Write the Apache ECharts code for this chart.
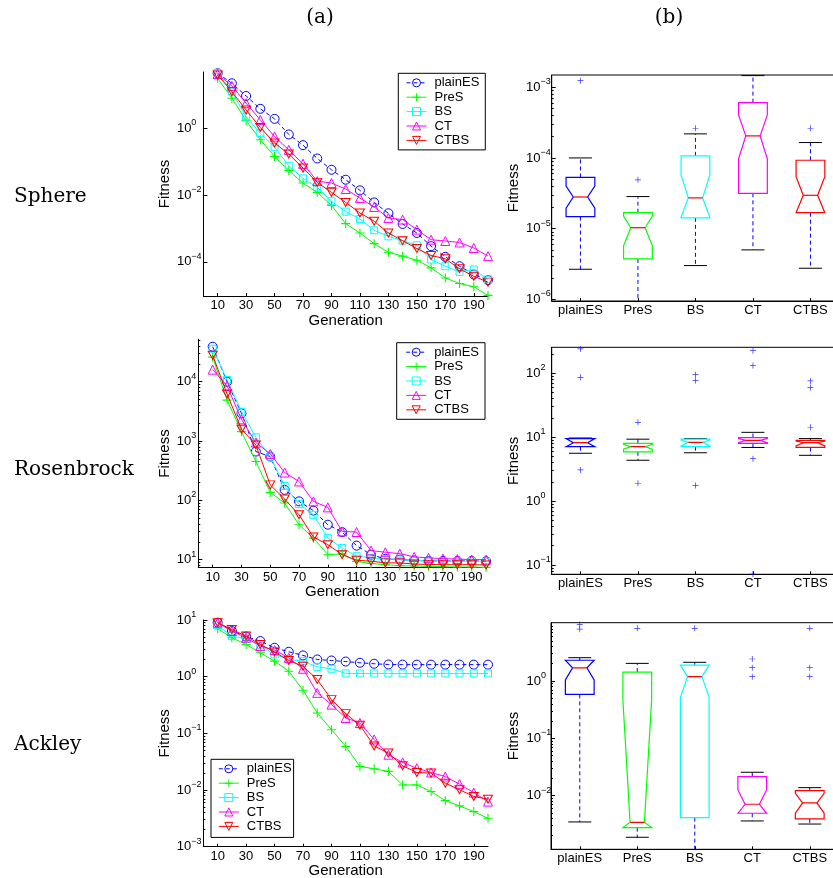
<!DOCTYPE html>
<html><head><meta charset="utf-8">
<script src="https://cdn.jsdelivr.net/npm/echarts@6/dist/echarts.min.js"></script>
<style>html,body{margin:0;padding:0;background:#fff}#c{width:833px;height:878px}</style>
</head><body><div id="c"></div>
<script>
// ---------------- DATA ----------------
const gens = [10,20,30,40,50,60,70,80,90,100,110,120,130,140,150,160,170,180,190,200];
const xTicks = [10,30,50,70,90,110,130,150,170,190];
const methods = ['plainES','PreS','BS','CT','CTBS'];

// (a) convergence curves
const sphere_plainES = [44,22,9.2,3.8,1.9,0.65,0.31,0.124,0.057,0.0287,0.0138,6.0e-3,2.84e-3,1.36e-3,7.3e-4,2.94e-4,1.41e-4,7.4e-5,4.2e-5,2.84e-5];
const sphere_PreS    = [31,7.9,1.7,0.45,0.143,0.054,0.0228,0.012,4.9e-3,1.39e-3,7.3e-4,3.5e-4,1.94e-4,1.48e-4,1.12e-4,6.6e-5,3.3e-5,2.25e-5,1.8e-5,9.9e-6];
const sphere_BS      = [45,12.4,2.2,0.71,0.27,0.075,0.0315,0.0169,6.5e-3,3.18e-3,1.92e-3,8.8e-4,5.8e-4,4.3e-4,3.1e-4,1.17e-4,7.4e-5,5.0e-5,5.9e-5,2.97e-5];
const sphere_CT      = [42,18.4,5.6,1.77,0.56,0.225,0.086,0.026,0.0228,0.0151,8.1e-3,4.4e-3,2.06e-3,1.84e-3,9.2e-4,4.6e-4,4.2e-4,3.8e-4,2.6e-4,1.48e-4];
const sphere_CTBS    = [39,12.4,3.5,1.05,0.36,0.168,0.064,0.0239,0.012,6.0e-3,2.9e-3,1.64e-3,7.3e-4,4.3e-4,2.5e-4,1.55e-4,1.23e-4,6.2e-5,3.7e-5,2.47e-5];

const ros_plainES = [3.9e4,1.0e4,2930,664,547,150,96,67,38.8,29,17.2,12.1,10.3,10,9.7,9.5,9.5,9.5,9.5,9.4];
const ros_PreS    = [2.6e4,4900,1440,451,136,90,38.8,23,12.1,12.5,9.3,8.6,8.2,7.9,7.8,7.7,7.6,7.5,7.5,7.4];
const ros_BS      = [3.6e4,1.07e4,3130,1155,547,175,86,57,23,15.7,11.4,10.7,10.3,10,9.7,9.6,9.5,9.4,9.4,9.3];
const ros_CT      = [1.6e4,8500,2320,940,607,294,208,96,76,29.9,29.2,14.2,13.3,12.6,11.1,10.7,10.4,10.2,10,10];
const ros_CTBS    = [2.8e4,6200,1580,860,182,105,57,24,17.9,12.1,9.75,9.4,8.8,8.8,8.4,8.3,8.2,8.2,8.2,8.1];

const ack_plainES = [8.97,6.4,5.1,4.25,3.24,2.75,2.37,2.01,1.93,1.85,1.76,1.69,1.64,1.63,1.63,1.63,1.63,1.63,1.63,1.63];
const ack_PreS    = [7.0,4.87,3.7,2.64,1.88,1.25,0.576,0.229,0.116,0.0589,0.0261,0.0237,0.0213,0.0123,0.0123,9.4e-3,6.5e-3,5.25e-3,4.16e-3,3.17e-3];
const ack_BS      = [8.05,5.2,4.68,3.56,2.47,2.01,1.88,1.49,1.38,1.14,1.14,1.14,1.14,1.14,1.14,1.14,1.14,1.14,1.14,1.14];
const ack_CT      = [8.97,6.4,4.87,3.47,2.94,2.15,1.38,0.518,0.321,0.187,0.152,0.078,0.042,0.0307,0.0243,0.0204,0.0173,0.0127,9.0e-3,6.25e-3];
const ack_CTBS    = [8.97,6.8,5.2,3.7,2.72,1.93,1.53,0.891,0.394,0.223,0.139,0.06,0.045,0.0268,0.0204,0.0199,0.0132,0.0101,7.7e-3,6.9e-3];

// (b) notched box statistics: [lowerWhisker, q1, notchLow, median, notchHigh, q3, upperWhisker]
const sphereBox_plainES = [2.66e-6,1.48e-5,1.94e-5,2.8e-5,4.0e-5,5.3e-5,1.0e-4];
const sphereBox_PreS    = [5e-7,3.72e-6,5.7e-6,1.03e-5,1.51e-5,1.68e-5,2.84e-5];
const sphereBox_BS      = [3.0e-6,1.42e-5,1.45e-5,2.72e-5,5.75e-5,1.07e-4,2.19e-4];
const sphereBox_CT      = [5.0e-6,3.16e-5,9.7e-5,2.05e-4,4.06e-4,6.06e-4,1.46e-3];
const sphereBox_CTBS    = [2.75e-6,1.68e-5,1.68e-5,2.96e-5,5.44e-5,9.27e-5,1.65e-4];
const sphereOut_plainES = [1.24e-3];
const sphereOut_PreS    = [4.9e-5];
const sphereOut_BS      = [2.63e-4];
const sphereOut_CT      = [];
const sphereOut_CTBS    = [2.63e-4];

const rosBox_plainES = [5.6,7.1,7.1,8.2,9.5,9.5,9.7];
const rosBox_PreS    = [4.35,5.9,6.5,7.1,7.7,8.0,9.3];
const rosBox_BS      = [5.7,7.1,7.3,8.3,9.0,9.3,9.5];
const rosBox_CT      = [6.9,8.0,8.2,8.9,9.5,9.85,11.9];
const rosBox_CTBS    = [5.2,6.9,7.3,8.2,8.7,8.9,9.5];
const rosOut_plainES = [240,86.5,3.07];
const rosOut_PreS    = [17.1,1.9];
const rosOut_BS      = [95,77,1.75];
const rosOut_CT      = [226,132,4.6,0.072];
const rosOut_CTBS    = [76,59.7,14.3];

const ackBox_plainES = [3.48e-3,0.586,1.04,1.70,2.3,2.3,2.55];
const ackBox_PreS    = [1.88e-3,2.77e-3,2.77e-3,3.43e-3,0.47,1.43,2.03];
const ackBox_BS      = [4e-4,4.14e-3,0.52,1.19,1.9,1.9,2.12];
const ackBox_CT      = [3.62e-3,4.93e-3,4.93e-3,7.08e-3,0.0126,0.0214,0.0256];
const ackBox_CTBS    = [3.2e-3,3.93e-3,4.93e-3,7.46e-3,0.011,0.0122,0.0138];
const ackOut_plainES = [9.7,8.0];
const ackOut_PreS    = [8.3];
const ackOut_BS      = [8.3];
const ackOut_CT      = [2.42,1.71,1.19];
const ackOut_CTBS    = [8.3,1.71,1.19];

// tick labels (powers of ten)
const sphereLineTicks = [1e-4,1e-2,1];
const rosLineTicks = [10,100,1000,10000];
const ackLineTicks = [1e-3,1e-2,1e-1,1,10];
const sphereBoxTicks = [1e-6,1e-5,1e-4,1e-3];
const rosBoxTicks = [0.1,1,10,100];
const ackBoxTicks = [1e-2,1e-1,1];

// ---------------- STYLE / LAYOUT ----------------
const colors = ['#0000ff','#00ff00','#00ffff','#ff00ff','#ff0000'];
const plusPath = 'path://M0,4.4H10V5.6H0ZM4.4,0H5.6V10H4.4Z';
const downTri = 'path://M0,0L10,0L5,8.66Z';
const symDefs = [
  {symbol:'circle', size:9, fill:'none'},
  {symbol:plusPath, size:9, fill:'#00ff00'},
  {symbol:'rect', size:7, fill:'none'},
  {symbol:'triangle', size:9, fill:'none'},
  {symbol:downTri, size:[9,8], fill:'none'}
];
const FONT = 'Liberation Sans';

const lineRows = [
  [sphere_plainES,sphere_PreS,sphere_BS,sphere_CT,sphere_CTBS],
  [ros_plainES,ros_PreS,ros_BS,ros_CT,ros_CTBS],
  [ack_plainES,ack_PreS,ack_BS,ack_CT,ack_CTBS]
];
const boxRows = [
  [sphereBox_plainES,sphereBox_PreS,sphereBox_BS,sphereBox_CT,sphereBox_CTBS],
  [rosBox_plainES,rosBox_PreS,rosBox_BS,rosBox_CT,rosBox_CTBS],
  [ackBox_plainES,ackBox_PreS,ackBox_BS,ackBox_CT,ackBox_CTBS]
];
const outRows = [
  [sphereOut_plainES,sphereOut_PreS,sphereOut_BS,sphereOut_CT,sphereOut_CTBS],
  [rosOut_plainES,rosOut_PreS,rosOut_BS,rosOut_CT,rosOut_CTBS],
  [ackOut_plainES,ackOut_PreS,ackOut_BS,ackOut_CT,ackOut_CTBS]
];
const lineTickRows = [sphereLineTicks, rosLineTicks, ackLineTicks];
const boxTickRows = [sphereBoxTicks, rosBoxTicks, ackBoxTicks];

const gridsA = [
  {left:203.4, top:72, width:284.6, height:224, ymin:9.5e-6, ymax:48, minor:false, lm:26.5, ng:31},
  {left:198.3, top:339.3, width:287.8, height:228.4, ymin:7.3, ymax:5.2e4, minor:true, lm:21.6, ng:26},
  {left:203.4, top:620, width:284.6, height:226.7, ymin:1e-3, ymax:10, minor:true, lm:26.7, ng:31}
];
const gridsB = [
  {left:551.7, top:75, width:287.5, height:226, ymin:9.46e-7, ymax:1.49e-3, lm:25.7},
  {left:551.7, top:347.3, width:287.5, height:227, ymin:0.0714, ymax:255, lm:25.7},
  {left:551, top:622.7, width:287.5, height:226.6, ymin:1.16e-3, ymax:10.4, lm:24.5}
];

function minorTicks(min, max) {
  const out = [];
  for (let e = Math.floor(Math.log10(min)); e <= Math.ceil(Math.log10(max)); e++) {
    for (let k = 2; k <= 9; k++) { const v = k * Math.pow(10, e); if (v > min && v < max) out.push(v); }
  }
  return out;
}
function supFmt(v) {
  const e = Math.round(Math.log10(v));
  const s = e < 0 ? '\u2212' + (-e) : '' + e;
  return '{b|10}{s|' + s + '}';
}
const supRich = {
  b: {fontSize:13, fontFamily:FONT, color:'#000', verticalAlign:'middle'},
  s: {fontSize:9, fontFamily:FONT, color:'#000', verticalAlign:'middle', padding:[0,0,11,0]}
};

const grid = [], xAxis = [], yAxis = [], series = [];

// (a) panels
gridsA.forEach((g, r) => {
  const gi = grid.length;
  grid.push({left:g.left, top:g.top, width:g.width, height:g.height, outerBoundsMode:'none', containLabel:false});
  xAxis.push({type:'value', gridIndex:gi, min:0, max:200,
    axisLine:{show:true, onZero:false, lineStyle:{color:'#000', width:1}},
    axisTick:{show:true, inside:true, length:3, customValues:xTicks, lineStyle:{color:'#000'}},
    axisLabel:{customValues:xTicks, fontSize:13, fontFamily:FONT, color:'#000', margin:3},
    splitLine:{show:false},
    name:'Generation', nameLocation:'middle', nameGap:16,
    nameTextStyle:{fontSize:15, fontFamily:FONT, color:'#000'}});
  yAxis.push({type:'log', gridIndex:gi, min:g.ymin, max:g.ymax, logBase:10,
    axisLine:{show:true, lineStyle:{color:'#000', width:1}},
    axisTick:{show:true, inside:true, length:4, customValues:lineTickRows[r], lineStyle:{color:'#000'}},
    axisLabel:{customValues:lineTickRows[r], formatter:supFmt, rich:supRich, align:'left', margin:g.lm},
    splitLine:{show:false},
    name:'Fitness', nameLocation:'middle', nameGap:g.ng,
    nameTextStyle:{fontSize:15, fontFamily:FONT, color:'#000'}});
  const yi = yAxis.length - 1;
  if (g.minor) {
    yAxis.push({type:'log', gridIndex:gi, min:g.ymin, max:g.ymax, position:'left',
      axisLine:{show:false}, axisLabel:{show:false}, splitLine:{show:false},
      axisTick:{show:true, inside:true, length:2, customValues:minorTicks(g.ymin, g.ymax), lineStyle:{color:'#000'}}});
  }
  methods.forEach((m, k) => {
    const sd = symDefs[k];
    series.push({type:'line', name:m, xAxisIndex:gi, yAxisIndex:yi,
      data: gens.map((x, i) => [x, lineRows[r][k][i]]),
      symbol: sd.symbol, symbolSize: sd.size, showAllSymbol:true,
      lineStyle:{color:colors[k], width:1, type: k === 0 ? [4,3] : 'solid'},
      itemStyle:{color:sd.fill, borderColor:colors[k], borderWidth: k === 1 ? 0 : 1},
      emphasis:{disabled:true}, z: 2 + k});
  });
});

// (b) panels
function boxRender(params, api) {
  const i = api.value(0);
  const P = val => api.coord([i, val]);
  const med = api.value(4);
  const cx = P(med)[0];
  const band = api.size([1, 0])[0];
  const hw = band * 0.25, nw = band * 0.125, cw = band * 0.2;
  const y = k => P(api.value(k))[1];
  const yLo = y(1), yQ1 = y(2), yNL = y(3), yMed = y(4), yNH = y(5), yQ3 = y(6), yHi = y(7);
  const col = colors[i];
  const dash = {stroke:'#0000ff', lineWidth:1, lineDash:[4,3]};
  const cap = {stroke:'#000', lineWidth:1};
  return {type:'group', children:[
    {type:'line', shape:{x1:cx, y1:yQ3, x2:cx, y2:yHi}, style:dash},
    {type:'line', shape:{x1:cx, y1:yQ1, x2:cx, y2:yLo}, style:dash},
    {type:'line', shape:{x1:cx-cw, y1:yHi, x2:cx+cw, y2:yHi}, style:cap},
    {type:'line', shape:{x1:cx-cw, y1:yLo, x2:cx+cw, y2:yLo}, style:cap},
    {type:'polygon', shape:{points:[
      [cx-hw,yQ1],[cx-hw,yNL],[cx-nw,yMed],[cx-hw,yNH],[cx-hw,yQ3],
      [cx+hw,yQ3],[cx+hw,yNH],[cx+nw,yMed],[cx+hw,yNL],[cx+hw,yQ1]]},
      style:{fill:'none', stroke:col, lineWidth:1.2}},
    {type:'line', shape:{x1:cx-nw, y1:yMed, x2:cx+nw, y2:yMed}, style:{stroke:'#ff0000', lineWidth:1.2}}
  ]};
}

gridsB.forEach((g, r) => {
  const gi = grid.length;
  grid.push({left:g.left, top:g.top, width:g.width, height:g.height, outerBoundsMode:'none', containLabel:false,
    show:true, borderColor:'#000', borderWidth:1, backgroundColor:'transparent'});
  xAxis.push({type:'category', gridIndex:gi, data:methods, boundaryGap:true,
    axisLine:{show:true, onZero:false, lineStyle:{color:'#000', width:1}},
    axisTick:{show:true, inside:true, length:3, alignWithLabel:true, lineStyle:{color:'#000'}},
    axisLabel:{fontSize:13, fontFamily:FONT, color:'#000', margin:3, interval:0},
    splitLine:{show:false}});
  yAxis.push({type:'log', gridIndex:gi, min:g.ymin, max:g.ymax, logBase:10,
    axisLine:{show:true, lineStyle:{color:'#000', width:1}},
    axisTick:{show:true, inside:true, length:4, customValues:boxTickRows[r], lineStyle:{color:'#000'}},
    axisLabel:{customValues:boxTickRows[r], formatter:supFmt, rich:supRich, align:'left', margin:g.lm},
    splitLine:{show:false},
    name:'Fitness', nameLocation:'middle', nameGap:30,
    nameTextStyle:{fontSize:15, fontFamily:FONT, color:'#000'}});
  const yi = yAxis.length - 1;
  yAxis.push({type:'log', gridIndex:gi, min:g.ymin, max:g.ymax, position:'left',
    axisLine:{show:false}, axisLabel:{show:false}, splitLine:{show:false},
    axisTick:{show:true, inside:true, length:2, customValues:minorTicks(g.ymin, g.ymax), lineStyle:{color:'#000'}}});
  series.push({type:'custom', xAxisIndex:gi, yAxisIndex:yi, clip:true,
    encode:{x:0, y:[1,2,3,4,5,6,7]},
    data: methods.map((m, i) => [i].concat(boxRows[r][i])),
    renderItem: boxRender, silent:true, z:2});
  const outs = [];
  methods.forEach((m, i) => outRows[r][i].forEach(v => outs.push([i, v])));
  series.push({type:'scatter', xAxisIndex:gi, yAxisIndex:yi, data:outs, symbol:plusPath, symbolSize:6,
    itemStyle:{color:'#0000ff'}, silent:true, z:3});
});

const legendData = methods.map((m, k) => ({
  name: m,
  itemStyle: {color: symDefs[k].fill, borderColor: colors[k], borderWidth: k === 1 ? 0 : 1},
  lineStyle: {color: colors[k], width: 1, type: k === 0 ? [4,3] : 'solid'}
}));
const legendBase = {orient:'vertical', data:legendData, selectedMode:false,
  backgroundColor:'#fff', borderColor:'#000', borderWidth:1,
  itemWidth:20, itemHeight:10, itemGap:0.4,
  textStyle:{fontSize:13, fontFamily:FONT, color:'#000', lineHeight:14, padding:[0,0,0,3]}};

const option = {
  animation:false,
  textStyle:{fontFamily:FONT},
  grid, xAxis, yAxis, series,
  legend:[
    Object.assign({}, legendBase, {left:398.3, top:73.3, padding:[2.5,6,2.5,7.7]}),
    Object.assign({}, legendBase, {left:396.7, top:342.7, padding:[2.5,6,2.5,9]}),
    Object.assign({}, legendBase, {left:211, top:759.3, padding:[2.5,2,4,7.3]})
  ],
  graphic:[
    {type:'text', x:320, y:18, style:{text:'(a)', fontSize:20, fontFamily:'DejaVu Serif', fill:'#000', align:'center', verticalAlign:'middle'}},
    {type:'text', x:669, y:18, style:{text:'(b)', fontSize:20, fontFamily:'DejaVu Serif', fill:'#000', align:'center', verticalAlign:'middle'}},
    {type:'text', x:14, y:197, style:{text:'Sphere', fontSize:20, fontFamily:'DejaVu Serif', fill:'#000', align:'left', verticalAlign:'middle'}},
    {type:'text', x:14, y:470, style:{text:'Rosenbrock', fontSize:20, fontFamily:'DejaVu Serif', fill:'#000', align:'left', verticalAlign:'middle'}},
    {type:'text', x:14, y:745, style:{text:'Ackley', fontSize:20, fontFamily:'DejaVu Serif', fill:'#000', align:'left', verticalAlign:'middle'}}
  ]
};
const chart = echarts.init(document.getElementById('c'), null, {renderer:'canvas'});
chart.setOption(option);
</script></body></html>
